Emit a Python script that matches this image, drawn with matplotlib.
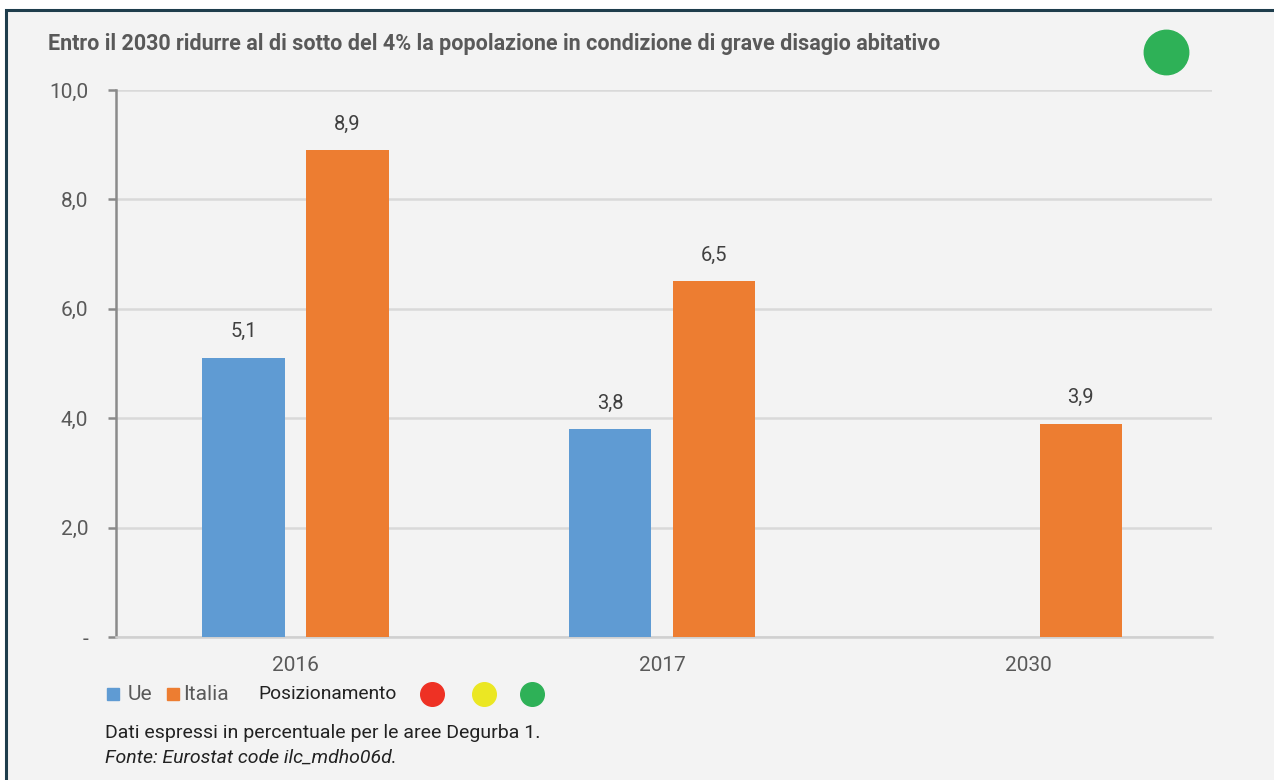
import numpy as np
import matplotlib.pyplot as plt
from matplotlib.patches import Rectangle
from matplotlib.lines import Line2D

plt.rcParams['font.family'] = ['Roboto', 'DejaVu Sans']

# Dati
anni = ['2016', '2017', '2030']
ue = [5.1, 3.8, np.nan]
italia = [8.9, 6.5, 3.9]
yticks = [0, 2, 4, 6, 8, 10]
ylabels = ['-', '2,0', '4,0', '6,0', '8,0', '10,0']

blu = '#5f9bd3'
arancio = '#ed7d31'
sfondo = '#f3f3f3'
grigio = '#595959'

W, H = 1274, 780
fig = plt.figure(figsize=(W / 100, H / 100), dpi=100, facecolor='white')

# cornice
fig.add_artist(Rectangle((6 / W, -0.1), 1.2, (H - 10) / H + 0.1, transform=fig.transFigure,
                         facecolor=sfondo, edgecolor='#1e3d4c', linewidth=2.2, zorder=0))

ax = fig.add_axes([116 / W, 1 - 637 / H, (1212 - 116) / W, (637 - 90) / H])
ax.set_facecolor(sfondo)

x = np.arange(len(anni))
w = 0.225
off = 0.142
b1 = ax.bar(x - off, ue, w, color=blu, zorder=3)
b2 = ax.bar(x + off, italia, w, color=arancio, zorder=3)

for bars, vals in ((b1, ue), (b2, italia)):
    for b, v in zip(bars, vals):
        if np.isnan(v):
            continue
        ax.annotate(f'{v:.1f}'.replace('.', ','), (b.get_x() + b.get_width() / 2, v),
                    xytext=(0, 12), textcoords='offset points', ha='center', va='bottom',
                    fontsize=14.5, color='#404040')

ax.set_xlim(-0.49, 2.5)
ax.set_ylim(0, 10)
ax.set_yticks(yticks)
ax.set_yticklabels(ylabels, fontsize=15, color=grigio)
ax.set_xticks(x)
ax.set_xticklabels(anni, fontsize=15, color=grigio)
ax.tick_params(axis='x', length=0, pad=14)
ax.tick_params(axis='y', length=6, width=1.8, color='#8a8a8a', pad=14)
ax.grid(axis='y', color='#d9d9d9', linewidth=1.8, zorder=0)
for s in ('top', 'right'):
    ax.spines[s].set_visible(False)
ax.spines['left'].set_color('#8a8a8a')
ax.spines['left'].set_linewidth(1.8)
ax.spines['bottom'].set_color('#d0d0d0')
ax.spines['bottom'].set_linewidth(1.8)

# titolo
fig.text(48 / W, 1 - 44 / H, 'Entro il 2030 ridurre al di sotto del 4% la popolazione in condizione di grave disagio abitativo',
         fontsize=15.5, fontweight='bold', color=grigio, va='center', ha='left')
fig.add_artist(Line2D([1166 / W], [1 - 52 / H], marker='o', markersize=32, color='#2eb157',
                      transform=fig.transFigure))

# legenda
ly = 1 - 694 / H
fig.add_artist(Line2D([113 / W], [ly], marker='s', markersize=8.5, color=blu, transform=fig.transFigure))
fig.text(128 / W, ly, 'Ue', fontsize=15, color=grigio, va='center')
fig.add_artist(Line2D([173 / W], [ly], marker='s', markersize=8.5, color=arancio, transform=fig.transFigure))
fig.text(183 / W, ly, 'Italia', fontsize=15, color=grigio, va='center')
fig.text(258 / W, ly, 'Posizionamento', fontsize=13.8, color='#222222', va='center')
for cx, c in ((432, '#ee3124'), (484, '#ebe723'), (532, '#2eb157')):
    fig.add_artist(Line2D([cx / W], [ly], marker='o', markersize=17, color=c, transform=fig.transFigure))

fig.text(105 / W, 1 - 733 / H, 'Dati espressi in percentuale per le aree Degurba 1.',
         fontsize=14, color='#222222', va='center')
fig.text(105 / W, 1 - 758 / H, 'Fonte: Eurostat code ilc_mdho06d.',
         fontsize=14, color='#222222', va='center', style='italic')

fig.savefig('out.png', dpi=100, facecolor='white')
